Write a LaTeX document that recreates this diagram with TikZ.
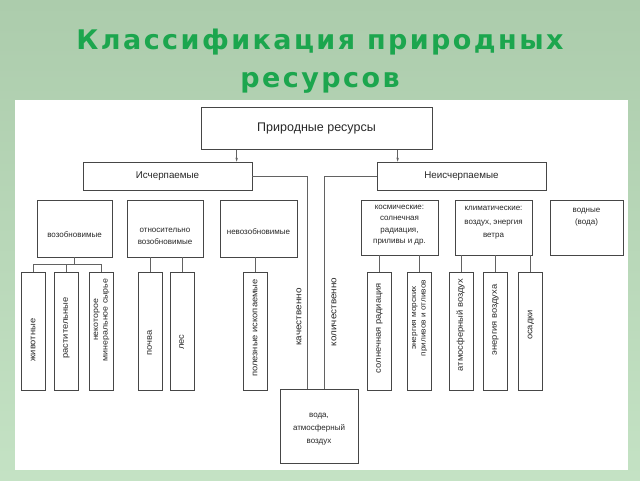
\documentclass[tikz,border=0pt]{standalone}
\usepackage{fontspec}
\usepackage{graphicx}
\setmainfont{Liberation Sans}
\newfontfamily\titlefont[LetterSpace=9]{DejaVu Sans}
\newfontfamily\vfont[FakeStretch=1.1]{Liberation Sans}
\usetikzlibrary{arrows.meta}
\definecolor{bgtop}{RGB}{172,204,172}
\definecolor{bgbot}{RGB}{196,226,196}
\definecolor{titlegreen}{RGB}{28,166,78}
\definecolor{linec}{RGB}{70,70,70}
\definecolor{txtc}{RGB}{40,40,40}
\newcommand{\vt}[3]{\rotatebox{90}{\hspace*{#1}\begin{tabular}{@{}c@{}}#3\end{tabular}\hspace*{#2}}}
\newcommand{\lt}[2]{\raisebox{#1}[0pt][0pt]{\begin{tabular}{@{}c@{}}#2\end{tabular}}}
\begin{document}
\begin{tikzpicture}[x=1pt,y=-1pt,
  box/.style={draw=linec, line width=0.7pt, fill=white, inner sep=0pt, align=center, text=txtc},
  small/.style={font=\fontsize{8}{11.5}\selectfont},
  mid/.style={box, small, minimum height=57pt},
  tall/.style={box, minimum width=24pt, minimum height=118pt, font=\vfont\fontsize{8.5}{9.5}\selectfont},
  conn/.style={draw=linec!85, line width=0.5pt},
  lab/.style={text=txtc, font=\vfont\fontsize{9}{10}\selectfont, inner sep=0pt},
  titlestyle/.style={text=titlegreen, align=center, inner sep=0pt, font=\titlefont\bfseries\fontsize{27}{38}\selectfont}]
\fill[top color=bgtop, bottom color=bgbot] (0,0) rectangle (640,480);
\useasboundingbox (0,0) rectangle (640,480);
\fill[white] (15,100) rectangle (628,470);

\node[titlestyle] (title) at (320,61) {Классификация природных\\ресурсов};

\node[box, minimum width=231pt, minimum height=42pt, font=\fontsize{12.5}{14}\selectfont] (top) at (316.5,128.5) {Природные ресурсы};
\node[box, minimum width=169pt, minimum height=28pt, font=\fontsize{9.8}{11}\selectfont] (isch) at (167.5,176) {Исчерпаемые};
\node[box, minimum width=169pt, minimum height=28pt, font=\fontsize{9.8}{11}\selectfont] (neisch) at (461.5,176) {Неисчерпаемые};

\node[mid, minimum width=75pt] (vozob) at (74.5,228.5) {\lt{-8.5pt}{возобновимые}};
\node[mid, minimum width=76pt] (otn) at (165,228.5) {\lt{-9.5pt}{относительно\\возобновимые}};
\node[mid, minimum width=77pt] (nevoz) at (258.5,228.5) {\lt{-5.5pt}{невозобновимые}};
\node[mid, minimum width=77pt, minimum height=55pt] (kosm) at (399.5,227.5) {\lt{1.5pt}{космические:\\солнечная\\радиация,\\приливы и др.}};
\node[mid, minimum width=77pt, minimum height=55pt, font=\fontsize{8}{13.5}\selectfont] (klim) at (493.5,227.5) {\lt{4pt}{климатические:\\воздух, энергия\\ветра}};
\node[mid, minimum width=73pt, minimum height=55pt] (vodn) at (586.5,227.5) {\lt{9.5pt}{водные\\(вода)}};

\node[tall] (zhiv) at (33.5,331) {\vt{0pt}{18pt}{животные}};
\node[tall] (rast) at (66,331) {\vt{6pt}{0pt}{растительные}};
\node[tall, font=\vfont\fontsize{8}{9.5}\selectfont] (nekot) at (101,331) {\vt{22pt}{0pt}{некоторое\\минеральное сырье}};
\node[tall] (pochva) at (150,331) {\vt{0pt}{24pt}{почва}};
\node[tall] (les) at (182,331) {\vt{0pt}{22pt}{лес}};
\node[tall] (polez) at (255.5,331) {\vt{6pt}{0pt}{полезные ископаемые}};
\node[tall] (soln) at (379,331) {\vt{6pt}{0pt}{солнечная радиация}};
\node[tall, font=\vfont\fontsize{7.5}{9.5}\selectfont] (energmor) at (419,331) {\vt{26pt}{0pt}{энергия морских\\приливов и отливов}};
\node[tall] (atm) at (461,331) {\vt{12pt}{0pt}{атмосферный воздух}};
\node[tall] (energvozd) at (495,331) {\vt{22pt}{0pt}{энергия воздуха}};
\node[tall] (osadki) at (530.5,331) {\vt{12pt}{0pt}{осадки}};

\node[box, minimum width=78pt, minimum height=74pt, font=\fontsize{8}{13}\selectfont] (bot) at (319,426) {\lt{-4pt}{вода,\\атмосферный\\воздух}};

\node[lab, rotate=90] (kach) at (299,317) {качественно};
\node[lab, rotate=90] (kol) at (334,312) {количественно};

\draw[conn, -{Stealth[length=4pt,width=2.5pt]}] ([xshift=36pt]top.south west) -- ([xshift=36pt]top.south west |- isch.north);
\draw[conn, -{Stealth[length=4pt,width=2.5pt]}] ([xshift=197pt]top.south west) -- ([xshift=197pt]top.south west |- neisch.north);
\draw[conn] (isch.east) -| ([xshift=-12pt]bot.north);
\draw[conn] (neisch.west) -| ([xshift=5pt]bot.north);

\draw[conn] (vozob.south) -- ++(0,8);
\draw[conn] (zhiv.north) -- ++(0,-7) -| (nekot.north);
\draw[conn] (rast.north) -- ++(0,-7);
\draw[conn] (otn.south -| pochva.north) -- (pochva.north);
\draw[conn] (otn.south -| les.north) -- (les.north);
\draw[conn] (nevoz.south -| polez.north) -- (polez.north);
\draw[conn] (kosm.south -| soln.north) -- (soln.north);
\draw[conn] (kosm.south -| energmor.north) -- (energmor.north);
\draw[conn] (klim.south -| atm.north) -- (atm.north);
\draw[conn] (klim.south -| energvozd.north) -- (energvozd.north);
\draw[conn] (klim.south -| osadki.north) -- (osadki.north);
\end{tikzpicture}
\end{document}
